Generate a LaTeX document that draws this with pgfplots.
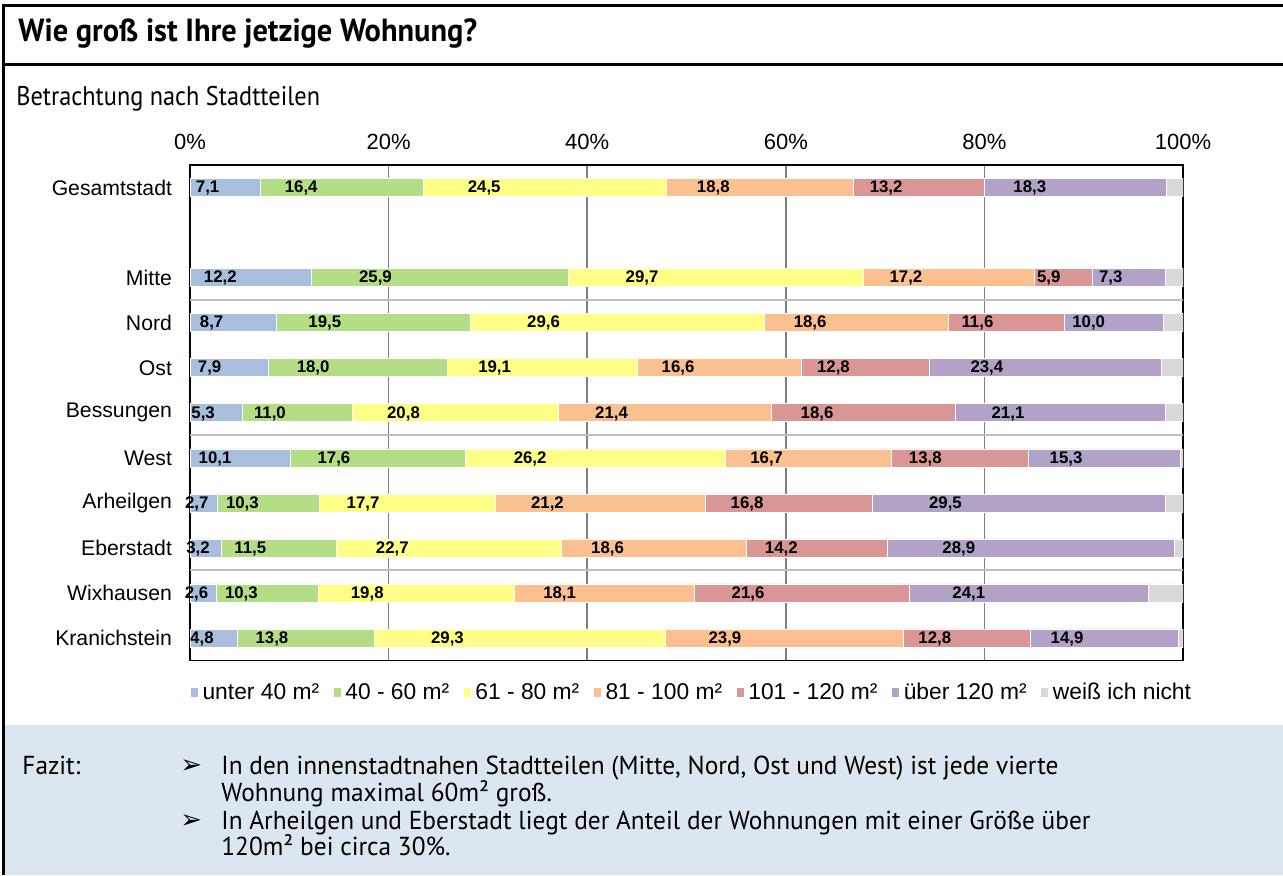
\documentclass[border=0pt]{standalone}
\usepackage{fontspec}
\setmainfont{Liberation Sans}
\newfontfamily\ptsans{PT Sans}
\newfontfamily\symfont{DejaVu Sans}
\usepackage{graphicx}
\usepackage{pgfplots}
\pgfplotsset{compat=1.18}
\usepackage{pgfplotstable}

\definecolor{cA}{HTML}{A7BEDD}
\definecolor{cB}{HTML}{B3DE85}
\definecolor{cC}{HTML}{FFFF88}
\definecolor{cD}{HTML}{FAC090}
\definecolor{cE}{HTML}{D99694}
\definecolor{cF}{HTML}{B3A2C7}
\definecolor{cG}{HTML}{D9D9D9}
\definecolor{fazitbg}{HTML}{DCE6F1}
\definecolor{gridc}{HTML}{808080}
\definecolor{sepc}{HTML}{BFBFBF}

% pos: Gesamtstadt=10, (gap 9), Mitte=8 ... Kranichstein=0
\pgfplotstableread{
pos a b c d e f g
10 7.1 16.4 24.5 18.8 13.2 18.3 1.7
8 12.2 25.9 29.7 17.2 5.9 7.3 1.8
7 8.7 19.5 29.6 18.6 11.6 10.0 2.0
6 7.9 18.0 19.1 16.6 12.8 23.4 2.2
5 5.3 11.0 20.8 21.4 18.6 21.1 1.8
4 10.1 17.6 26.2 16.7 13.8 15.3 0.3
3 2.7 10.3 17.7 21.2 16.8 29.5 1.8
2 3.2 11.5 22.7 18.6 14.2 28.9 0.9
1 2.6 10.3 19.8 18.1 21.6 24.1 3.5
0 4.8 13.8 29.3 23.9 12.8 14.9 0.5
}\data

% the node style is applied twice, so a quarter of the segment gives the half shift
\pgfplotsset{
  lbl/.style={
    nodes near coords={\pgfmathprintnumber[fixed,fixed zerofill,precision=1,use comma,assume math mode=true]{\pgfplotspointmeta}},
    visualization depends on={0.25*\thisrow{#1} \as \qx},
    every node near coord/.style={font=\bfseries\fontsize{8.4}{9}\selectfont, text=black, anchor=center, shift={(axis direction cs:-\qx,0)}, yshift=-0.35pt},
  },
  sq/.style={legend image code/.code={\fill[##1] (0pt,-2.5pt) rectangle (4pt,2.5pt);}},
}

\begin{document}
\begin{tikzpicture}
\begin{scope}[x=0.5pt,y=-0.5pt]
  \useasboundingbox (0,0) rectangle (1283,875);
  \fill[fazitbg] (3,725) rectangle (1283,875);
  \draw[line width=1.5pt] (3,875) -- (3,5) -- (1283,5);
  \draw[line width=1.5pt] (3,64) -- (1283,64);
  \node[anchor=base west, inner sep=0pt] at (18,41) {\scalebox{0.95}[1]{\ptsans\bfseries\fontsize{16}{18}\selectfont Wie groß ist Ihre jetzige Wohnung?}};
  \node[anchor=base west, inner sep=0pt] at (16,105) {\scalebox{0.9}[1]{\ptsans\fontsize{13.5}{15}\selectfont Betrachtung nach Stadtteilen}};
  \coordinate (axC) at (686.5,412.75);
  % Fazit
  \begin{scope}[every node/.style={anchor=base west, inner sep=0pt}]
    \node at (22,774) {\scalebox{0.975}[1]{\ptsans\fontsize{13}{15}\selectfont Fazit:}};
    \node at (180,773) {\symfont\fontsize{13}{15}\selectfont ➢};
    \node at (221,774) {\scalebox{0.975}[1]{\ptsans\fontsize{13}{15}\selectfont In den innenstadtnahen Stadtteilen (Mitte, Nord, Ost und West) ist jede vierte}};
    \node at (221,801) {\scalebox{0.975}[1]{\ptsans\fontsize{13}{15}\selectfont Wohnung maximal 60m² groß.}};
    \node at (180,828) {\symfont\fontsize{13}{15}\selectfont ➢};
    \node at (221,829) {\scalebox{0.975}[1]{\ptsans\fontsize{13}{15}\selectfont In Arheilgen und Eberstadt liegt der Anteil der Wohnungen mit einer Größe über}};
    \node at (221,855) {\scalebox{0.975}[1]{\ptsans\fontsize{13}{15}\selectfont 120m² bei circa 30\%.}};
  \end{scope}
\end{scope}
\begin{axis}[
  at={(axC)}, anchor=center,
  scale only axis, width=496.5pt, height=247.75pt,
  xbar stacked, bar width=9pt,
  xmin=0, xmax=100, ymin=-0.5, ymax=10.5,
  xtick={0,20,...,100}, xticklabel pos=upper,
  xticklabel={\pgfmathprintnumber[assume math mode=true]{\tick}\%},
  xticklabel style={font=\fontsize{11}{12}\selectfont, yshift=4pt},
  ytick={0,1,2,3,4,5,6,7,8,10},
  yticklabels={Kranichstein,Wixhausen,Eberstadt,Arheilgen,West,Bessungen,Ost,Nord,Mitte,Gesamtstadt},
  yticklabel style={font=\fontsize{10.6}{12}\selectfont, xshift=-5.5pt},
  major tick length=0pt,
  xmajorgrids, major grid style={draw=gridc, line width=0.75pt},
  extra y ticks={1.5,4.5,7.5}, extra y tick labels={},
  extra y tick style={grid=major, major grid style={draw=sepc, line width=1pt}},
  axis line style={line width=0.75pt, black},
  point meta=explicit,
  legend style={at={(0.5,0)}, anchor=north, yshift=-7pt, xshift=3pt, draw=none, fill=none,
    font=\fontsize{11.4}{13}\selectfont, legend columns=-1,
    /tikz/every even column/.append style={column sep=4.8pt}},
  legend cell align=left,
]
\addplot[fill=cA, draw=white, line width=0.3pt, sq, lbl=a] table[x=a, y=pos, meta=a] {\data};
\addplot[fill=cB, draw=white, line width=0.3pt, sq, lbl=b] table[x=b, y=pos, meta=b] {\data};
\addplot[fill=cC, draw=white, line width=0.3pt, sq, lbl=c] table[x=c, y=pos, meta=c] {\data};
\addplot[fill=cD, draw=white, line width=0.3pt, sq, lbl=d] table[x=d, y=pos, meta=d] {\data};
\addplot[fill=cE, draw=white, line width=0.3pt, sq, lbl=e] table[x=e, y=pos, meta=e] {\data};
\addplot[fill=cF, draw=white, line width=0.3pt, sq, lbl=f] table[x=f, y=pos, meta=f] {\data};
\addplot[fill=cG, draw=white, line width=0.3pt, sq] table[x=g, y=pos, meta=g] {\data};
\legend{unter 40 m², 40 - 60 m², 61 - 80 m², 81 - 100 m², 101 - 120 m², über 120 m², weiß ich nicht}
\end{axis}
\end{tikzpicture}
\end{document}
